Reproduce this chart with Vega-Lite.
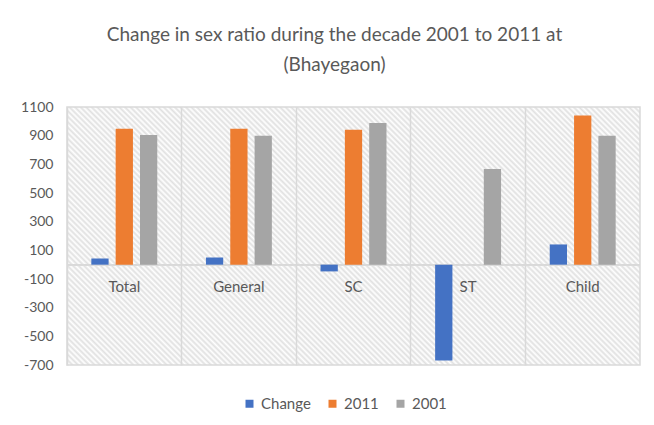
{
  "$schema": "https://vega.github.io/schema/vega-lite/v6.json",
  "width": 573,
  "height": 258,
  "autosize": "none",
  "padding": {"left": 67, "top": 107, "right": 14, "bottom": 60},
  "background": "white",
  "title": {
    "text": ["Change in sex ratio during the decade 2001 to 2011 at", "(Bhayegaon)"],
    "fontSize": 19,
    "font": "Lato",
    "fontWeight": "normal",
    "color": "#595959",
    "anchor": "middle",
    "frame": "group",
    "dx": -19,
    "offset": 25,
    "lineHeight": 30
  },
  "config": {
    "font": "Lato",
    "axis": {"labelOverlap": false},
    "view": {
      "stroke": "#d9d9d9",
      "strokeWidth": 1.5,
      "fill": {
        "gradient": "linear",
        "x1": 0, "y1": 1, "x2": 1.2058, "y2": 0.457,
        "stops": [
{"offset":0,"color":"#e0e0e0"},{"offset":0.0033,"color":"#fff"},{"offset":0.0067,"color":"#e0e0e0"},
{"offset":0.01,"color":"#fff"},{"offset":0.0133,"color":"#e0e0e0"},{"offset":0.0167,"color":"#fff"},
{"offset":0.02,"color":"#e0e0e0"},{"offset":0.0233,"color":"#fff"},{"offset":0.0267,"color":"#e0e0e0"},
{"offset":0.03,"color":"#fff"},{"offset":0.0333,"color":"#e0e0e0"},{"offset":0.0367,"color":"#fff"},
{"offset":0.04,"color":"#e0e0e0"},{"offset":0.0433,"color":"#fff"},{"offset":0.0467,"color":"#e0e0e0"},
{"offset":0.05,"color":"#fff"},{"offset":0.0533,"color":"#e0e0e0"},{"offset":0.0567,"color":"#fff"},
{"offset":0.06,"color":"#e0e0e0"},{"offset":0.0633,"color":"#fff"},{"offset":0.0667,"color":"#e0e0e0"},
{"offset":0.07,"color":"#fff"},{"offset":0.0733,"color":"#e0e0e0"},{"offset":0.0767,"color":"#fff"},
{"offset":0.08,"color":"#e0e0e0"},{"offset":0.0833,"color":"#fff"},{"offset":0.0867,"color":"#e0e0e0"},
{"offset":0.09,"color":"#fff"},{"offset":0.0933,"color":"#e0e0e0"},{"offset":0.0967,"color":"#fff"},
{"offset":0.10,"color":"#e0e0e0"},{"offset":0.1033,"color":"#fff"},{"offset":0.1067,"color":"#e0e0e0"},
{"offset":0.11,"color":"#fff"},{"offset":0.1133,"color":"#e0e0e0"},{"offset":0.1167,"color":"#fff"},
{"offset":0.12,"color":"#e0e0e0"},{"offset":0.1233,"color":"#fff"},{"offset":0.1267,"color":"#e0e0e0"},
{"offset":0.13,"color":"#fff"},{"offset":0.1333,"color":"#e0e0e0"},{"offset":0.1367,"color":"#fff"},
{"offset":0.14,"color":"#e0e0e0"},{"offset":0.1433,"color":"#fff"},{"offset":0.1467,"color":"#e0e0e0"},
{"offset":0.15,"color":"#fff"},{"offset":0.1533,"color":"#e0e0e0"},{"offset":0.1567,"color":"#fff"},
{"offset":0.16,"color":"#e0e0e0"},{"offset":0.1633,"color":"#fff"},{"offset":0.1667,"color":"#e0e0e0"},
{"offset":0.17,"color":"#fff"},{"offset":0.1733,"color":"#e0e0e0"},{"offset":0.1767,"color":"#fff"},
{"offset":0.18,"color":"#e0e0e0"},{"offset":0.1833,"color":"#fff"},{"offset":0.1867,"color":"#e0e0e0"},
{"offset":0.19,"color":"#fff"},{"offset":0.1933,"color":"#e0e0e0"},{"offset":0.1967,"color":"#fff"},
{"offset":0.20,"color":"#e0e0e0"},{"offset":0.2033,"color":"#fff"},{"offset":0.2067,"color":"#e0e0e0"},
{"offset":0.21,"color":"#fff"},{"offset":0.2133,"color":"#e0e0e0"},{"offset":0.2167,"color":"#fff"},
{"offset":0.22,"color":"#e0e0e0"},{"offset":0.2233,"color":"#fff"},{"offset":0.2267,"color":"#e0e0e0"},
{"offset":0.23,"color":"#fff"},{"offset":0.2333,"color":"#e0e0e0"},{"offset":0.2367,"color":"#fff"},
{"offset":0.24,"color":"#e0e0e0"},{"offset":0.2433,"color":"#fff"},{"offset":0.2467,"color":"#e0e0e0"},
{"offset":0.25,"color":"#fff"},{"offset":0.2533,"color":"#e0e0e0"},{"offset":0.2567,"color":"#fff"},
{"offset":0.26,"color":"#e0e0e0"},{"offset":0.2633,"color":"#fff"},{"offset":0.2667,"color":"#e0e0e0"},
{"offset":0.27,"color":"#fff"},{"offset":0.2733,"color":"#e0e0e0"},{"offset":0.2767,"color":"#fff"},
{"offset":0.28,"color":"#e0e0e0"},{"offset":0.2833,"color":"#fff"},{"offset":0.2867,"color":"#e0e0e0"},
{"offset":0.29,"color":"#fff"},{"offset":0.2933,"color":"#e0e0e0"},{"offset":0.2967,"color":"#fff"},
{"offset":0.30,"color":"#e0e0e0"},{"offset":0.3033,"color":"#fff"},{"offset":0.3067,"color":"#e0e0e0"},
{"offset":0.31,"color":"#fff"},{"offset":0.3133,"color":"#e0e0e0"},{"offset":0.3167,"color":"#fff"},
{"offset":0.32,"color":"#e0e0e0"},{"offset":0.3233,"color":"#fff"},{"offset":0.3267,"color":"#e0e0e0"},
{"offset":0.33,"color":"#fff"},{"offset":0.3333,"color":"#e0e0e0"},{"offset":0.3367,"color":"#fff"},
{"offset":0.34,"color":"#e0e0e0"},{"offset":0.3433,"color":"#fff"},{"offset":0.3467,"color":"#e0e0e0"},
{"offset":0.35,"color":"#fff"},{"offset":0.3533,"color":"#e0e0e0"},{"offset":0.3567,"color":"#fff"},
{"offset":0.36,"color":"#e0e0e0"},{"offset":0.3633,"color":"#fff"},{"offset":0.3667,"color":"#e0e0e0"},
{"offset":0.37,"color":"#fff"},{"offset":0.3733,"color":"#e0e0e0"},{"offset":0.3767,"color":"#fff"},
{"offset":0.38,"color":"#e0e0e0"},{"offset":0.3833,"color":"#fff"},{"offset":0.3867,"color":"#e0e0e0"},
{"offset":0.39,"color":"#fff"},{"offset":0.3933,"color":"#e0e0e0"},{"offset":0.3967,"color":"#fff"},
{"offset":0.40,"color":"#e0e0e0"},{"offset":0.4033,"color":"#fff"},{"offset":0.4067,"color":"#e0e0e0"},
{"offset":0.41,"color":"#fff"},{"offset":0.4133,"color":"#e0e0e0"},{"offset":0.4167,"color":"#fff"},
{"offset":0.42,"color":"#e0e0e0"},{"offset":0.4233,"color":"#fff"},{"offset":0.4267,"color":"#e0e0e0"},
{"offset":0.43,"color":"#fff"},{"offset":0.4333,"color":"#e0e0e0"},{"offset":0.4367,"color":"#fff"},
{"offset":0.44,"color":"#e0e0e0"},{"offset":0.4433,"color":"#fff"},{"offset":0.4467,"color":"#e0e0e0"},
{"offset":0.45,"color":"#fff"},{"offset":0.4533,"color":"#e0e0e0"},{"offset":0.4567,"color":"#fff"},
{"offset":0.46,"color":"#e0e0e0"},{"offset":0.4633,"color":"#fff"},{"offset":0.4667,"color":"#e0e0e0"},
{"offset":0.47,"color":"#fff"},{"offset":0.4733,"color":"#e0e0e0"},{"offset":0.4767,"color":"#fff"},
{"offset":0.48,"color":"#e0e0e0"},{"offset":0.4833,"color":"#fff"},{"offset":0.4867,"color":"#e0e0e0"},
{"offset":0.49,"color":"#fff"},{"offset":0.4933,"color":"#e0e0e0"},{"offset":0.4967,"color":"#fff"},
{"offset":0.50,"color":"#e0e0e0"},{"offset":0.5033,"color":"#fff"},{"offset":0.5067,"color":"#e0e0e0"},
{"offset":0.51,"color":"#fff"},{"offset":0.5133,"color":"#e0e0e0"},{"offset":0.5167,"color":"#fff"},
{"offset":0.52,"color":"#e0e0e0"},{"offset":0.5233,"color":"#fff"},{"offset":0.5267,"color":"#e0e0e0"},
{"offset":0.53,"color":"#fff"},{"offset":0.5333,"color":"#e0e0e0"},{"offset":0.5367,"color":"#fff"},
{"offset":0.54,"color":"#e0e0e0"},{"offset":0.5433,"color":"#fff"},{"offset":0.5467,"color":"#e0e0e0"},
{"offset":0.55,"color":"#fff"},{"offset":0.5533,"color":"#e0e0e0"},{"offset":0.5567,"color":"#fff"},
{"offset":0.56,"color":"#e0e0e0"},{"offset":0.5633,"color":"#fff"},{"offset":0.5667,"color":"#e0e0e0"},
{"offset":0.57,"color":"#fff"},{"offset":0.5733,"color":"#e0e0e0"},{"offset":0.5767,"color":"#fff"},
{"offset":0.58,"color":"#e0e0e0"},{"offset":0.5833,"color":"#fff"},{"offset":0.5867,"color":"#e0e0e0"},
{"offset":0.59,"color":"#fff"},{"offset":0.5933,"color":"#e0e0e0"},{"offset":0.5967,"color":"#fff"},
{"offset":0.60,"color":"#e0e0e0"},{"offset":0.6033,"color":"#fff"},{"offset":0.6067,"color":"#e0e0e0"},
{"offset":0.61,"color":"#fff"},{"offset":0.6133,"color":"#e0e0e0"},{"offset":0.6167,"color":"#fff"},
{"offset":0.62,"color":"#e0e0e0"},{"offset":0.6233,"color":"#fff"},{"offset":0.6267,"color":"#e0e0e0"},
{"offset":0.63,"color":"#fff"},{"offset":0.6333,"color":"#e0e0e0"},{"offset":0.6367,"color":"#fff"},
{"offset":0.64,"color":"#e0e0e0"},{"offset":0.6433,"color":"#fff"},{"offset":0.6467,"color":"#e0e0e0"},
{"offset":0.65,"color":"#fff"},{"offset":0.6533,"color":"#e0e0e0"},{"offset":0.6567,"color":"#fff"},
{"offset":0.66,"color":"#e0e0e0"},{"offset":0.6633,"color":"#fff"},{"offset":0.6667,"color":"#e0e0e0"},
{"offset":0.67,"color":"#fff"},{"offset":0.6733,"color":"#e0e0e0"},{"offset":0.6767,"color":"#fff"},
{"offset":0.68,"color":"#e0e0e0"},{"offset":0.6833,"color":"#fff"},{"offset":0.6867,"color":"#e0e0e0"},
{"offset":0.69,"color":"#fff"},{"offset":0.6933,"color":"#e0e0e0"},{"offset":0.6967,"color":"#fff"},
{"offset":0.70,"color":"#e0e0e0"},{"offset":0.7033,"color":"#fff"},{"offset":0.7067,"color":"#e0e0e0"},
{"offset":0.71,"color":"#fff"},{"offset":0.7133,"color":"#e0e0e0"},{"offset":0.7167,"color":"#fff"},
{"offset":0.72,"color":"#e0e0e0"},{"offset":0.7233,"color":"#fff"},{"offset":0.7267,"color":"#e0e0e0"},
{"offset":0.73,"color":"#fff"},{"offset":0.7333,"color":"#e0e0e0"},{"offset":0.7367,"color":"#fff"},
{"offset":0.74,"color":"#e0e0e0"},{"offset":0.7433,"color":"#fff"},{"offset":0.7467,"color":"#e0e0e0"},
{"offset":0.75,"color":"#fff"},{"offset":0.7533,"color":"#e0e0e0"},{"offset":0.7567,"color":"#fff"},
{"offset":0.76,"color":"#e0e0e0"},{"offset":0.7633,"color":"#fff"},{"offset":0.7667,"color":"#e0e0e0"},
{"offset":0.77,"color":"#fff"},{"offset":0.7733,"color":"#e0e0e0"},{"offset":0.7767,"color":"#fff"},
{"offset":0.78,"color":"#e0e0e0"},{"offset":0.7833,"color":"#fff"},{"offset":0.7867,"color":"#e0e0e0"},
{"offset":0.79,"color":"#fff"},{"offset":0.7933,"color":"#e0e0e0"},{"offset":0.7967,"color":"#fff"},
{"offset":0.80,"color":"#e0e0e0"},{"offset":0.8033,"color":"#fff"},{"offset":0.8067,"color":"#e0e0e0"},
{"offset":0.81,"color":"#fff"},{"offset":0.8133,"color":"#e0e0e0"},{"offset":0.8167,"color":"#fff"},
{"offset":0.82,"color":"#e0e0e0"},{"offset":0.8233,"color":"#fff"},{"offset":0.8267,"color":"#e0e0e0"},
{"offset":0.83,"color":"#fff"},{"offset":0.8333,"color":"#e0e0e0"},{"offset":0.8367,"color":"#fff"},
{"offset":0.84,"color":"#e0e0e0"},{"offset":0.8433,"color":"#fff"},{"offset":0.8467,"color":"#e0e0e0"},
{"offset":0.85,"color":"#fff"},{"offset":0.8533,"color":"#e0e0e0"},{"offset":0.8567,"color":"#fff"},
{"offset":0.86,"color":"#e0e0e0"},{"offset":0.8633,"color":"#fff"},{"offset":0.8667,"color":"#e0e0e0"},
{"offset":0.87,"color":"#fff"},{"offset":0.8733,"color":"#e0e0e0"},{"offset":0.8767,"color":"#fff"},
{"offset":0.88,"color":"#e0e0e0"},{"offset":0.8833,"color":"#fff"},{"offset":0.8867,"color":"#e0e0e0"},
{"offset":0.89,"color":"#fff"},{"offset":0.8933,"color":"#e0e0e0"},{"offset":0.8967,"color":"#fff"},
{"offset":0.90,"color":"#e0e0e0"},{"offset":0.9033,"color":"#fff"},{"offset":0.9067,"color":"#e0e0e0"},
{"offset":0.91,"color":"#fff"},{"offset":0.9133,"color":"#e0e0e0"},{"offset":0.9167,"color":"#fff"},
{"offset":0.92,"color":"#e0e0e0"},{"offset":0.9233,"color":"#fff"},{"offset":0.9267,"color":"#e0e0e0"},
{"offset":0.93,"color":"#fff"},{"offset":0.9333,"color":"#e0e0e0"},{"offset":0.9367,"color":"#fff"},
{"offset":0.94,"color":"#e0e0e0"},{"offset":0.9433,"color":"#fff"},{"offset":0.9467,"color":"#e0e0e0"},
{"offset":0.95,"color":"#fff"},{"offset":0.9533,"color":"#e0e0e0"},{"offset":0.9567,"color":"#fff"},
{"offset":0.96,"color":"#e0e0e0"},{"offset":0.9633,"color":"#fff"},{"offset":0.9667,"color":"#e0e0e0"},
{"offset":0.97,"color":"#fff"},{"offset":0.9733,"color":"#e0e0e0"},{"offset":0.9767,"color":"#fff"},
{"offset":0.98,"color":"#e0e0e0"},{"offset":0.9833,"color":"#fff"},{"offset":0.9867,"color":"#e0e0e0"},
{"offset":0.99,"color":"#fff"},{"offset":0.9933,"color":"#e0e0e0"},{"offset":0.9967,"color":"#fff"},
{"offset":1,"color":"#e0e0e0"}
        ]
      }
    }
  },
  "data": {
    "values": [
      {"category": "Total", "series": "Change", "value": 43},
      {"category": "Total", "series": "2011", "value": 948},
      {"category": "Total", "series": "2001", "value": 905},
      {"category": "General", "series": "Change", "value": 50},
      {"category": "General", "series": "2011", "value": 949},
      {"category": "General", "series": "2001", "value": 899},
      {"category": "SC", "series": "Change", "value": -47},
      {"category": "SC", "series": "2011", "value": 942},
      {"category": "SC", "series": "2001", "value": 989},
      {"category": "ST", "series": "Change", "value": -668},
      {"category": "ST", "series": "2011", "value": 0},
      {"category": "ST", "series": "2001", "value": 668},
      {"category": "Child", "series": "Change", "value": 141},
      {"category": "Child", "series": "2011", "value": 1041},
      {"category": "Child", "series": "2001", "value": 900}
    ]
  },
  "layer": [
    {
      "mark": {"type": "rule", "color": "#d9d9d9", "strokeWidth": 1.5},
      "encoding": {"y": {"datum": 0, "type": "quantitative"}}
    },
    {
      "mark": {"type": "bar"},
      "encoding": {
        "x": {
          "field": "category",
          "type": "nominal",
          "sort": ["Total", "General", "SC", "ST", "Child"],
          "scale": {"paddingInner": 0, "paddingOuter": 0},
          "axis": {
            "title": null,
            "labels": false,
            "ticks": false,
            "domain": false,
            "grid": true,
            "bandPosition": 0,
            "gridColor": "#d9d9d9",
            "gridWidth": 1.5
          }
        },
        "y": {
          "field": "value",
          "type": "quantitative",
          "scale": {"domain": [-700, 1100], "nice": false, "zero": false},
          "axis": {
            "title": null,
            "values": [-700, -500, -300, -100, 100, 300, 500, 700, 900, 1100],
            "tickCount": 20,
            "labelExpr": "'' + datum.value",
            "labelOverlap": false,
            "labelBound": false,
            "ticks": false,
            "domain": false,
            "gridColor": "#d9d9d9",
            "gridWidth": 1.5,
            "labelFontSize": 14,
            "labelColor": "#595959",
            "labelPadding": 14,
            "labelFont": "Lato"
          }
        },
        "xOffset": {
          "field": "series",
          "type": "nominal",
          "sort": ["Change", "2011", "2001"],
          "scale": {"paddingInner": 0.29, "paddingOuter": 1.03}
        },
        "color": {
          "field": "series",
          "type": "nominal",
          "sort": ["Change", "2011", "2001"],
          "scale": {"domain": ["Change", "2011", "2001"], "range": ["#4472C4", "#ED7D31", "#A5A5A5"]},
          "legend": {
            "title": null,
            "orient": "none",
            "direction": "horizontal",
            "legendX": 175,
            "legendY": 289,
            "symbolType": "square",
            "symbolSize": 64,
            "symbolStrokeWidth": 0,
            "labelFontSize": 15,
            "labelColor": "#595959",
            "labelFont": "Lato",
            "labelOffset": 4,
            "columnPadding": 14
          }
        }
      }
    },
    {
      "transform": [{"filter": "datum.series === '2011'"}],
      "mark": {"type": "text", "dy": 22, "fontSize": 15, "color": "#595959", "font": "Lato"},
      "encoding": {
        "x": {"field": "category", "type": "nominal", "sort": ["Total", "General", "SC", "ST", "Child"]},
        "y": {"datum": 0, "type": "quantitative"},
        "text": {"field": "category"}
      }
    }
  ]
}
